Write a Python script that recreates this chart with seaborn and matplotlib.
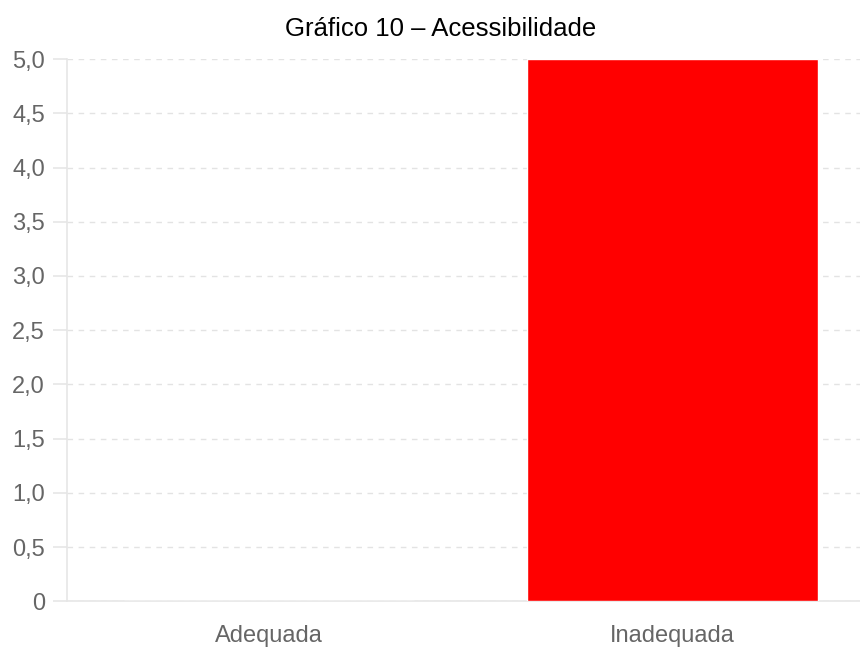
import matplotlib
matplotlib.use("Agg")
import matplotlib.pyplot as plt
import seaborn as sns
import pandas as pd
from matplotlib.ticker import FixedLocator

categorias = ["Adequada", "Inadequada"]
valores = [0, 5]
titulo = "Gráfico 10 – Acessibilidade"
yticks = [0, 0.5, 1.0, 1.5, 2.0, 2.5, 3.0, 3.5, 4.0, 4.5, 5.0]
ytick_labels = ["0", "0,5", "1,0", "1,5", "2,0", "2,5", "3,0", "3,5", "4,0", "4,5", "5,0"]

sns.set_style("white")
plt.rcParams["font.family"] = ["Liberation Sans", "DejaVu Sans"]

df = pd.DataFrame({"categoria": categorias, "valor": valores})

fig = plt.figure(figsize=(8.6, 6.5), dpi=100)
ax = fig.add_axes([0.078, 0.075, 0.939, 0.834])

sns.barplot(data=df, x="categoria", y="valor", color="#ff0000", width=0.72,
            saturation=1, ax=ax, zorder=3)

ax.set_ylim(0, 5)
ax.yaxis.set_major_locator(FixedLocator(yticks))
ax.set_yticklabels(ytick_labels)
ax.set_xlabel("")
ax.set_ylabel("")

ax.grid(axis="y", color="#e3e3e3", linestyle=(0, (4, 4)), linewidth=1, zorder=0)
ax.grid(axis="x", visible=False)
for side in ["top", "right"]:
    ax.spines[side].set_visible(False)
for side in ["left", "bottom"]:
    ax.spines[side].set_color("#e6e6e6")
    ax.spines[side].set_linewidth(1.2)

ax.tick_params(axis="y", colors="#e6e6e6", labelcolor="#666666", labelsize=17,
               length=10, width=1.2, left=True, pad=6)
ax.tick_params(axis="x", labelcolor="#666666", labelsize=17, length=0, pad=17)

fig.text(0.512, 0.956, titulo, ha="center", va="center", fontsize=18.5, color="black")

fig.savefig("out.png", dpi=100)
